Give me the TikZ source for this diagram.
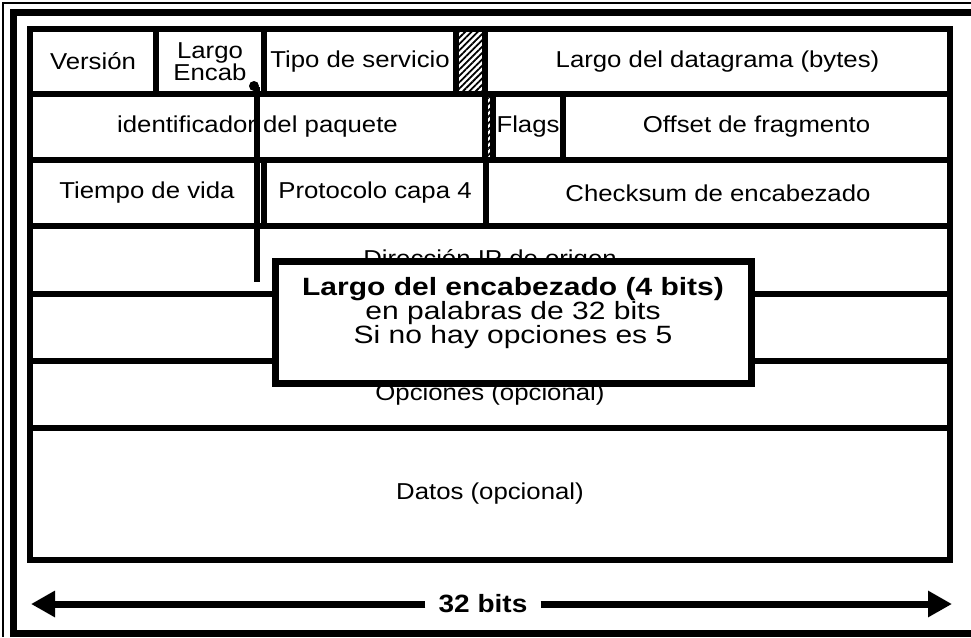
\documentclass[tikz,border=0pt]{standalone}
\usepackage{fontspec}
\setmainfont{Liberation Sans}[FakeStretch=1.12]
\newfontfamily\notafont{Liberation Sans}[FakeStretch=1.2]
\usepackage{tikz}
\usetikzlibrary{arrows.meta,positioning,patterns.meta}
\definecolor{tinta}{HTML}{000000}
\tikzset{
  campo/.style={draw=tinta, line width=6pt, outer sep=0pt, inner sep=0pt, anchor=north west, align=center, font=\fontsize{23}{18}\selectfont},
  reservado/.style={campo, pattern={Lines[angle=45, distance=4.5pt, line width=1.8pt]}, pattern color=tinta},
  cuadro/.style={draw=tinta, fill=white, line width=7pt, outer sep=0pt, inner sep=0pt},
  cuadrotexto/.style={align=center, inner sep=0pt, font=\notafont\fontsize{25}{20.5}\selectfont},
  conector/.style={line width=6.5pt, draw=tinta},
  flecha/.style={-{Triangle[length=24pt, width=25pt]}, line width=7pt, draw=tinta},
  marco/.style={draw=tinta, line width=7pt}
}

\begin{document}
\begin{tikzpicture}[x=1pt, y=-1pt]
  \useasboundingbox (0,0) rectangle (971,637);
  % marco de la ventana
  \draw[marco, line width=2.5pt] (971,3) -- (3,3) -- (3,637);
  \draw[marco] (971,12) -- (13.5,12) -- (13.5,633.5) -- (971,633.5);
  % fila 1
  \node[campo, minimum width=126pt, minimum height=65pt] (version) at (30,29) {Versión};
  \node[campo, minimum width=108pt, minimum height=65pt] (encab) at (156,29) {Largo\\Encab};
  \node[campo, minimum width=192pt, minimum height=65pt] (tipo) at (264,29) {Tipo de servicio};
  \node[reservado, minimum width=29pt, minimum height=65pt] (res) at (456,29) {};
  \node[campo, minimum width=465pt, minimum height=65pt] (largo) at (485,29) {Largo del datagrama (bytes)};
  % fila 2
  \node[campo, minimum width=455pt, minimum height=66pt] (ident) at (30,94) {identificador del paquete};
  \node[reservado, minimum width=8pt, minimum height=66pt] (resflag) at (485,94) {};
  \node[campo, minimum width=70pt, minimum height=66pt] (flags) at (493,94) {Flags};
  \node[campo, minimum width=387pt, minimum height=66pt] (offset) at (563,94) {Offset de fragmento};
  % fila 3
  \node[campo, minimum width=234pt, minimum height=66pt] (ttl) at (30,160) {Tiempo de vida};
  \node[campo, minimum width=222pt, minimum height=66pt] (proto) at (264,160) {Protocolo capa 4};
  \node[campo, minimum width=464pt, minimum height=66pt] (checksum) at (486,160) {Checksum de encabezado};
  % direcciones, opciones y datos
  \node[campo, minimum width=920pt, minimum height=68pt] (origen) at (30,226) {Dirección IP de origen};
  \node[campo, minimum width=920pt, minimum height=67pt] (destino) at (30,294) {};
  \node[campo, minimum width=920pt, minimum height=67pt] (opciones) at (30,361) {Opciones (opcional)};
  \node[campo, minimum width=920pt, minimum height=132pt] (datos) at (30,428) {Datos (opcional)};
  % llamada
  \coordinate (pie) at (257,282);
  \fill[tinta] ([xshift=-10pt, yshift=8pt]encab.south east) circle (5pt);
  \draw[conector] ([xshift=-7pt, yshift=7pt]encab.south east) -- (pie);
  \node[cuadro, minimum width=476pt, minimum height=122pt] (nota) at (513,322.5) {};
  \node[cuadrotexto] (notatxt) at ([yshift=9.5pt]nota.center) {\textbf{Largo del encabezado (4 bits)}\\en palabras de 32 bits\\Si no hay opciones es 5};
  % ancho
  \node[font=\bfseries\fontsize{25}{25}\selectfont, inner xsep=13pt, inner ysep=0pt] (ancho) at (483,604) {32 bits};
  \coordinate (izq) at (31,604);
  \coordinate (der) at (952,604);
  \draw[flecha] (ancho.west |- izq) -- (izq);
  \draw[flecha] (ancho.east |- der) -- (der);
\end{tikzpicture}
\end{document}
